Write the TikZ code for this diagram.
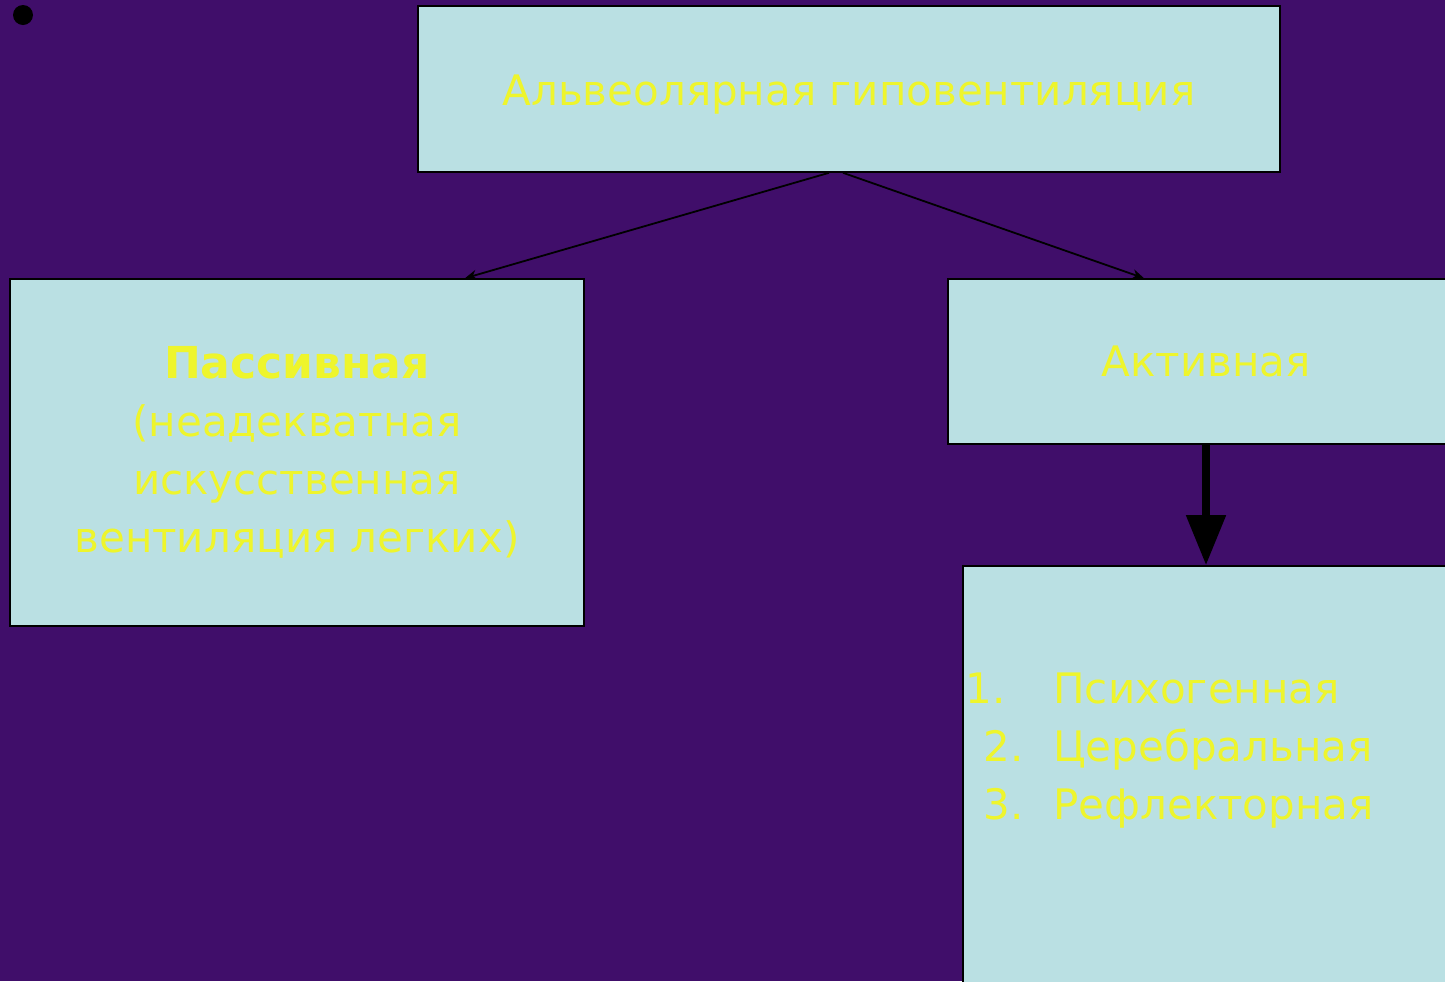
\documentclass[tikz,border=0pt]{standalone}
\usepackage{fontspec}
\setmainfont{DejaVu Sans}
\usetikzlibrary{arrows.meta}
\definecolor{bgpurple}{HTML}{400E6A}
\definecolor{boxcyan}{HTML}{BAE0E3}
\definecolor{txtyellow}{HTML}{EEF52C}

\begin{document}
\begin{tikzpicture}[x=0.5pt,y=-0.5pt]
\tikzstyle{box}=[draw=black, fill=boxcyan, line width=0.8pt, text=txtyellow, inner sep=0pt, align=center, font=\fontsize{21}{29}\selectfont]
\fill[bgpurple] (0,0) rectangle (1445,981);
\useasboundingbox (0,0) rectangle (1445,981);

\node[circle, fill=black, minimum size=10pt, inner sep=0pt] (dot) at (23,15) {};

\node[box, minimum width=431pt, minimum height=83pt] (hypo) at (849,89) {\raisebox{-8pt}[0pt][0pt]{Альвеолярная гиповентиляция}};
\node[box, minimum width=287pt, minimum height=173.5pt] (passive) at (297,452.5)
  {{\fontsize{22}{29}\selectfont\textbf{Пассивная}}\\(неадекватная\\искусственная\\вентиляция легких)};
\node[box, minimum width=258pt, minimum height=82.5pt] (active) at (1206,361.5) {Активная};
\node[box, minimum width=243pt, minimum height=217pt] (kinds) at (1206,783) {};
\node[text=txtyellow, align=left, inner sep=0pt, anchor=west, font=\fontsize{21}{29}\selectfont] (kindlist) at (965,751)
  {\makebox[44pt][l]{1.}Психогенная\\
   \hspace*{9pt}\makebox[35pt][l]{2.}Церебральная\\
   \hspace*{9pt}\makebox[35pt][l]{3.}Рефлекторная};

\draw[line width=0.9pt, -{Stealth[length=6pt,width=5pt]}] ([xshift=-10pt]hypo.south) -- ([xshift=84pt]passive.north);
\draw[line width=0.9pt, -{Stealth[length=6pt,width=5pt]}] ([xshift=-3pt]hypo.south) -- ([xshift=-31pt]active.north);
\draw[line width=4pt, -{Triangle[length=25pt,width=19pt]}] (active.south) -- (kinds.north);

\end{tikzpicture}
\end{document}
